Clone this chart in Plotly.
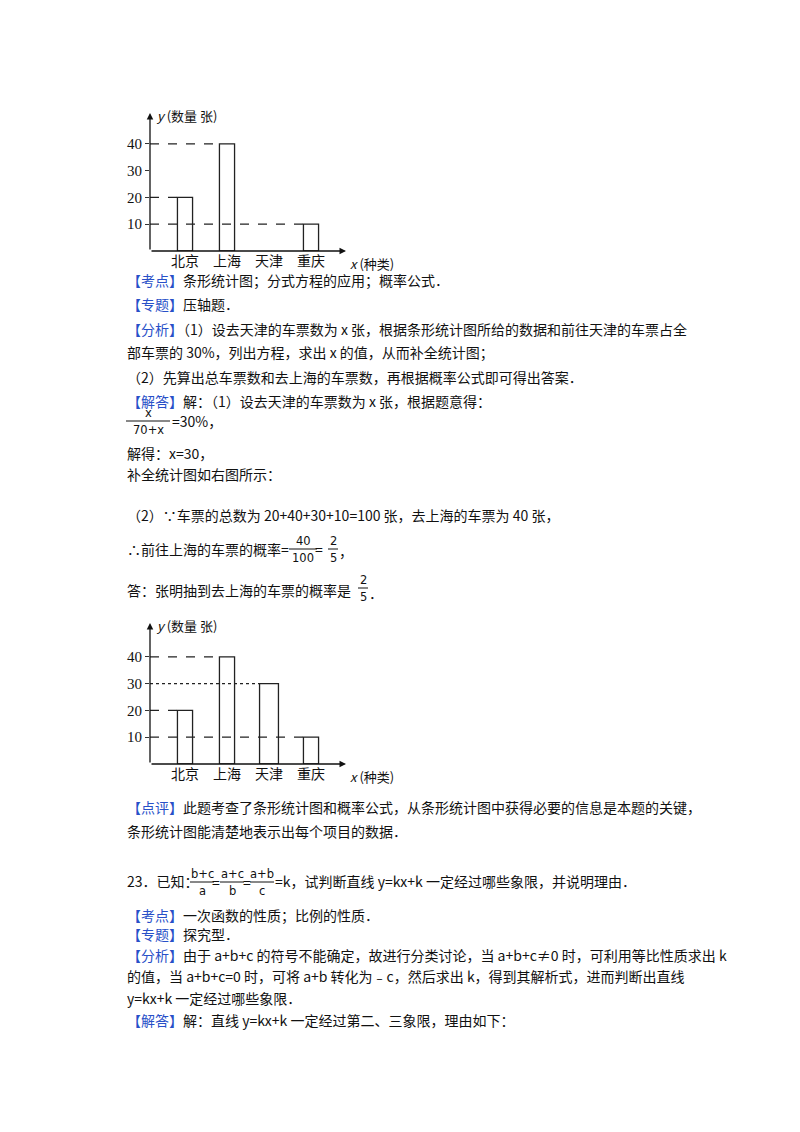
import plotly.graph_objects as go

W, H = 800, 1132

cities = ["北京", "上海", "天津", "重庆"]
tickets_before = [20, 40, 0, 10]
tickets_after = [20, 40, 30, 10]
y_ticks = [10, 20, 30, 40]

BLUE = "#2850c8"
CJK = "Noto Sans CJK SC"
SERIF = "Liberation Serif"


def px(x):
    return x / W


def py(y):
    return 1 - y / H


fig = go.Figure()
annos = []
shapes = []


def txt(x, y, s, size=14, anchor="left", font=CJK):
    annos.append(dict(x=px(x), y=py(y), xref="paper", yref="paper", text=s, showarrow=False,
                      xanchor=anchor, yanchor="middle", borderpad=0,
                      font=dict(family=font, size=size, color="#111")))


def frac(xc, y_mid, num, den, w):
    txt(xc, y_mid - 8, num, size=11.5, anchor="center", font="DejaVu Sans")
    txt(xc, y_mid + 9, den, size=11.5, anchor="center", font="DejaVu Sans")
    shapes.append(dict(type="line", xref="paper", yref="paper", x0=px(xc - w / 2), x1=px(xc + w / 2),
                       y0=py(y_mid), y1=py(y_mid), line=dict(color="#111", width=1)))


def lab(s):
    return f'<span style="color:{BLUE}">{s}</span>'


def bar_chart(n, values, widths, x_dom, y_top, y_zero, styles):
    xa, ya = ("x", "y") if n == 1 else ("x2", "y2")
    unit = 2.68  # px per ticket
    ymax = (y_zero - y_top) / unit
    spacing = 42
    x0 = -(177 - x_dom[0]) / spacing
    x1 = x0 + (x_dom[1] - x_dom[0]) / spacing
    for i, v in enumerate(values):
        if v <= 0:
            continue
        fig.add_trace(go.Bar(x=[i], y=[v], width=[widths[i]], xaxis=xa, yaxis=ya,
                             marker=dict(color="rgba(0,0,0,0)", line=dict(color="#222", width=1.3)),
                             showlegend=False))
    # dashed guide lines from the y axis to each bar
    for i, v in enumerate(values):
        if v <= 0:
            continue
        fig.add_trace(go.Scatter(x=[x0, i - widths[i] / 2], y=[v, v], mode="lines", xaxis=xa, yaxis=ya,
                                 line=dict(color="#222", width=1.2, dash=styles.get(v, "dash")),
                                 showlegend=False, hoverinfo="skip"))
    ax_key = "xaxis" if n == 1 else "xaxis2"
    ay_key = "yaxis" if n == 1 else "yaxis2"
    fig.update_layout(**{
        ax_key: dict(domain=[px(x_dom[0]), px(x_dom[1])], range=[x0, x1], anchor=ya,
                     tickvals=list(range(len(cities))), ticktext=cities, showgrid=False,
                     zeroline=False, showline=False, tickfont=dict(family=CJK, size=14, color="#111")),
        ay_key: dict(domain=[py(y_zero), py(y_top)], range=[0, ymax], anchor=xa,
                     tickvals=y_ticks, showgrid=False, zeroline=False, showline=False,
                     ticks="outside", ticklen=4, tickcolor="#333",
                     tickfont=dict(family=SERIF, size=15, color="#111")),
    })
    arrow = dict(showarrow=True, arrowhead=2, arrowsize=1, arrowwidth=1.3, arrowcolor="#111",
                 xref=xa, yref=ya, axref=xa, ayref=ya, text="")
    annos.append(dict(arrow, x=x0, y=ymax, ax=x0, ay=0))
    annos.append(dict(arrow, x=x1, y=0, ax=x0, ay=0))
    txt(x_dom[0] + 5, y_top + 2, "<i>y</i> (数量 张)", size=13)
    txt(x_dom[1] + 3, y_zero + 12, "<i>x</i> (种类)", size=13)


bar_chart(1, tickets_before, [0.36, 0.36, 0.36, 0.36], (142, 338), 105, 243, {})
bar_chart(2, tickets_after, [0.36, 0.36, 0.45, 0.36], (142, 338), 615, 756, {30: "dot"})

L = 118
txt(L, 272, lab("【考点】") + "条形统计图；分式方程的应用；概率公式．")
txt(L, 296, lab("【专题】") + "压轴题．")
txt(L, 321, lab("【分析】") + "（1）设去天津的车票数为 x 张，根据条形统计图所给的数据和前往天津的车票占全")
txt(L, 344, "部车票的 30%，列出方程，求出 x 的值，从而补全统计图；")
txt(L, 369, "（2）先算出总车票数和去上海的车票数，再根据概率公式即可得出答案．")
txt(L, 393, lab("【解答】") + "解：（1）设去天津的车票数为 x 张，根据题意得：")
frac(140, 413, "x", "70+x", 44)
txt(163, 413, "=30%，")
txt(L, 445, "解得：x=30，")
txt(L, 466, "补全统计图如右图所示：")
txt(L, 507, "（2）∵车票的总数为 20+40+30+10=100 张，去上海的车票为 40 张，")
txt(L, 541, "∴前往上海的车票的概率=")
frac(295, 541, "40", "100", 28)
txt(311, 541, "=", anchor="center")
frac(325, 541, "2", "5", 10)
txt(330, 543, "，")
txt(L, 582, "答：张明抽到去上海的车票的概率是")
frac(355, 580, "2", "5", 10)
txt(360, 585, "．")
txt(L, 799, lab("【点评】") + "此题考查了条形统计图和概率公式，从条形统计图中获得必要的信息是本题的关键，")
txt(L, 823, "条形统计图能清楚地表示出每个项目的数据．")
txt(L, 873, "23．已知：")
frac(194, 874, "b+c", "a", 24)
txt(208, 874, "=", anchor="center")
frac(224, 874, "a+c", "b", 24)
txt(239, 874, "=", anchor="center")
frac(254, 874, "a+b", "c", 24)
txt(266, 873, "=k，试判断直线 y=kx+k 一定经过哪些象限，并说明理由．")
txt(L, 907, lab("【考点】") + "一次函数的性质；比例的性质．")
txt(L, 926, lab("【专题】") + "探究型．")
txt(L, 947, lab("【分析】") + "由于 a+b+c 的符号不能确定，故进行分类讨论，当 a+b+c≠0 时，可利用等比性质求出 k")
txt(L, 968, "的值，当 a+b+c=0 时，可将 a+b 转化为﹣c，然后求出 k，得到其解析式，进而判断出直线")
txt(L, 990, "y=kx+k 一定经过哪些象限．")
txt(L, 1012, lab("【解答】") + "解：直线 y=kx+k 一定经过第二、三象限，理由如下：")

fig.update_layout(width=W, height=H, margin=dict(l=0, r=0, t=0, b=0, autoexpand=False),
                  paper_bgcolor="white", plot_bgcolor="white", annotations=annos, shapes=shapes,
                  barmode="overlay")
fig.write_html("out.html")
